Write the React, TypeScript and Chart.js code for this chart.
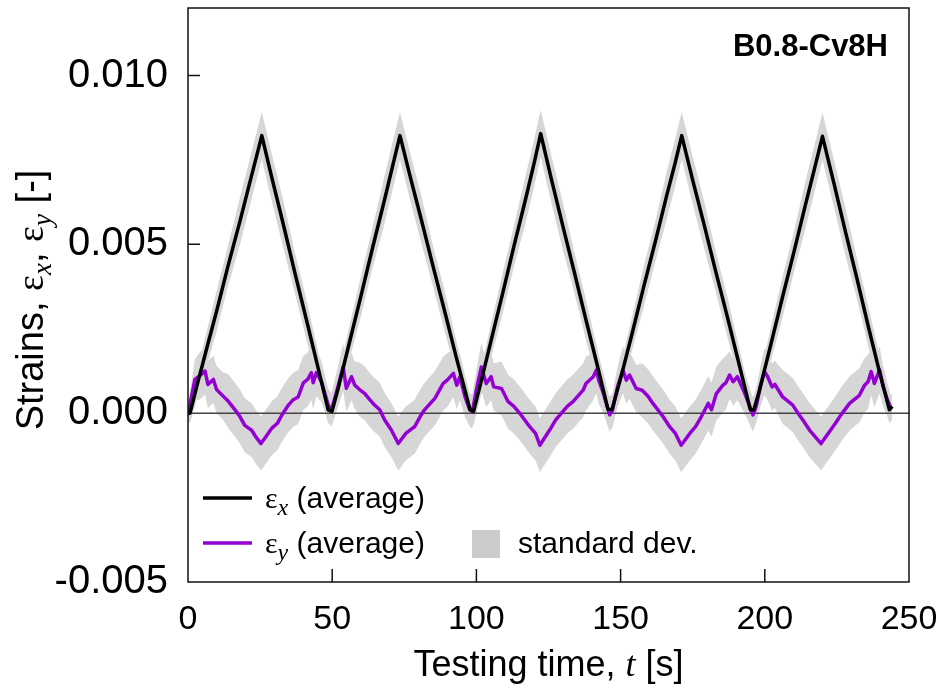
import React, { useEffect, useRef } from "react";
import { Chart, registerables } from "chart.js";

Chart.register(...registerables);

// ---------- data ----------
const xTickValues = [50, 100, 150, 200];
const yTickValues = [0.005, 0.01];

// average strain in x direction
const tX = [0, 0.7, 3, 6, 10, 14, 18, 22, 25.6, 29, 33, 37, 41, 45, 48.6, 49.9, 52, 56, 60, 64, 68, 71, 73.5, 77, 81, 85, 89, 93, 97.8, 99, 101, 105, 109, 113, 117, 120, 122.3, 126, 130, 134, 138, 142, 145.6, 147, 150, 154, 158, 162, 166, 169, 171.2, 175, 179, 183, 187, 191, 195, 196.2, 198, 202, 206, 210, 214, 217, 220, 224, 228, 232, 236, 240, 243.2, 244.2];
const epsX = [0, 0, 0.00078, 0.00176, 0.00305, 0.0044, 0.00568, 0.00702, 0.00822, 0.007, 0.00561, 0.00418, 0.00279, 0.00138, 0.0001, 0.00005, 0.00071, 0.0021, 0.00348, 0.0049, 0.00627, 0.00734, 0.00822, 0.00702, 0.0057, 0.00434, 0.00302, 0.00166, 0.0001, 0.00005, 0.00072, 0.00212, 0.00351, 0.00494, 0.00632, 0.0074, 0.00828, 0.00693, 0.00553, 0.00416, 0.00276, 0.00139, 0.00012, 0.0001, 0.00103, 0.00236, 0.00374, 0.00507, 0.00645, 0.00744, 0.00822, 0.0069, 0.00557, 0.00419, 0.00286, 0.00148, 0.0001, 0.0001, 0.00063, 0.002, 0.00339, 0.00474, 0.00614, 0.00716, 0.0082, 0.0068, 0.00536, 0.00397, 0.00253, 0.00114, 0.0001, 0.0002];
const sdX = [0.0002, 0.0003, 0.0004, 0.0005, 0.0006, 0.0006, 0.0007, 0.0007, 0.0007, 0.0007, 0.0007, 0.0006, 0.0006, 0.0005, 0.0004, 0.0004, 0.0004, 0.0005, 0.0006, 0.0006, 0.0007, 0.0007, 0.0007, 0.0007, 0.0007, 0.0006, 0.0006, 0.0005, 0.0004, 0.0004, 0.0004, 0.0005, 0.0006, 0.0006, 0.0007, 0.0007, 0.0007, 0.0007, 0.0007, 0.0006, 0.0006, 0.0005, 0.0004, 0.0004, 0.0004, 0.0005, 0.0006, 0.0006, 0.0007, 0.0007, 0.0007, 0.0007, 0.0007, 0.0006, 0.0006, 0.0005, 0.0004, 0.0004, 0.0004, 0.0005, 0.0006, 0.0006, 0.0007, 0.0007, 0.0007, 0.0007, 0.0007, 0.0006, 0.0006, 0.0005, 0.0004, 0.0004];

// average strain in y direction
const tY = [0, 1, 2.4, 4, 5.9, 6.9, 8.8, 9.9, 12, 14, 16.3, 18, 19.7, 22, 23.5, 25.3, 27, 29, 31, 32.5, 34.8, 36.5, 38.2, 40, 41.5, 42.8, 43.4, 44.5, 46.3, 48.6, 49.8, 52, 53.8, 54.9, 56.7, 57.8, 59.5, 61.3, 63, 64.7, 66.5, 68.2, 70.5, 72.9, 75.5, 78.6, 80.5, 82, 85.6, 88.5, 89.9, 92, 93.2, 94.3, 96, 97.7, 98.6, 100, 101.7, 103.4, 105.1, 106, 108.7, 111, 113, 115, 118.5, 120.5, 122, 125.4, 127.5, 129.5, 131.5, 133.5, 137, 138, 140.5, 141.6, 142.4, 144, 146.2, 147.2, 149, 150.8, 152, 153.1, 155.4, 157.5, 159.5, 161.2, 164.7, 167, 169, 171, 174, 176, 178, 180.4, 181.5, 183.2, 185.5, 186.5, 187.8, 189, 190.5, 193, 195.9, 197, 198.5, 199.9, 201, 202.5, 203.5, 206.2, 209.7, 211.5, 213.2, 215.5, 217.5, 219.5, 222.4, 224.5, 226.4, 229.4, 232.8, 234.6, 235.8, 236.9, 238, 239.8, 241, 242.5, 243.5];
const epsY = [0, 0.0004, 0.001, 0.0011, 0.00125, 0.00085, 0.001, 0.0007, 0.00052, 0.00035, 0.0001, -0.0001, -0.00036, -0.0005, -0.0007, -0.0009, -0.0007, -0.00045, -0.0003, -0.00006, 0.00024, 0.0004, 0.00048, 0.0009, 0.001, 0.0012, 0.0009, 0.0012, 0.00093, 0.00024, 0.0001, 0.00078, 0.00137, 0.00074, 0.00108, 0.00083, 0.0007, 0.00058, 0.0004, 0.00024, 0.0001, -0.0002, -0.0005, -0.0009, -0.0006, -0.0004, -0.0001, 0.0001, 0.00044, 0.00088, 0.00098, 0.00118, 0.00083, 0.00108, 0.0005, 0.0001, 0.00005, 0.0007, 0.00137, 0.00088, 0.00108, 0.00078, 0.00073, 0.00034, 0.0002, 0, -0.0004, -0.0006, -0.00095, -0.0005, -0.0002, 0, 0.0002, 0.00034, 0.00068, 0.00088, 0.00108, 0.00128, 0.00098, 0.0006, -0.00005, 0.0001, 0.0008, 0.00128, 0.00098, 0.00113, 0.00073, 0.00068, 0.0005, 0.00029, -0.0001, -0.0004, -0.0006, -0.00095, -0.0006, -0.0004, -0.0001, 0.00029, 0.0001, 0.00058, 0.00083, 0.0009, 0.00113, 0.00093, 0.00108, 0.0006, -0.00005, 0.0002, 0.0008, 0.00123, 0.00108, 0.00078, 0.00085, 0.00048, 0.00024, 0, -0.0002, -0.0005, -0.0007, -0.0009, -0.00055, -0.0003, -0.00005, 0.00029, 0.00053, 0.00083, 0.00093, 0.00123, 0.00088, 0.00128, 0.0008, 0.0004, 0.0002];
const sdY = [0.0002, 0.0004, 0.0006, 0.0007, 0.0007, 0.0007, 0.0007, 0.0007, 0.0007, 0.0008, 0.0008, 0.0008, 0.0008, 0.0008, 0.0008, 0.0008, 0.0008, 0.0008, 0.0008, 0.0008, 0.0008, 0.0008, 0.0008, 0.0008, 0.0008, 0.0008, 0.0008, 0.0007, 0.0006, 0.0005, 0.0005, 0.0006, 0.0007, 0.0007, 0.0007, 0.0007, 0.0008, 0.0008, 0.0008, 0.0008, 0.0008, 0.0008, 0.0008, 0.0008, 0.0008, 0.0008, 0.0008, 0.0008, 0.0008, 0.0008, 0.0008, 0.0007, 0.0007, 0.0007, 0.0006, 0.0005, 0.0005, 0.0006, 0.0007, 0.0007, 0.0007, 0.0007, 0.0008, 0.0008, 0.0008, 0.0008, 0.0008, 0.0008, 0.0008, 0.0008, 0.0008, 0.0008, 0.0008, 0.0008, 0.0008, 0.0008, 0.0007, 0.0007, 0.0007, 0.0006, 0.0005, 0.0005, 0.0006, 0.0007, 0.0007, 0.0007, 0.0007, 0.0008, 0.0008, 0.0008, 0.0008, 0.0008, 0.0008, 0.0008, 0.0008, 0.0008, 0.0008, 0.0008, 0.0008, 0.0008, 0.0008, 0.0008, 0.0007, 0.0007, 0.0007, 0.0006, 0.0005, 0.0005, 0.0006, 0.0007, 0.0007, 0.0007, 0.0007, 0.0008, 0.0008, 0.0008, 0.0008, 0.0008, 0.0008, 0.0008, 0.0008, 0.0008, 0.0008, 0.0008, 0.0008, 0.0008, 0.0008, 0.0007, 0.0007, 0.0007, 0.0006, 0.0005, 0.0004];

const BAND = "#d6d6d6";
const PURPLE = "#9400d3";
const SANS = "'Liberation Sans', Arial, sans-serif";
const SERIF = "'Liberation Serif', 'DejaVu Serif', serif";

type Run = { t: string; f: string; dy?: number };

function runsWidth(ctx: CanvasRenderingContext2D, runs: Run[]) {
  let w = 0;
  for (const r of runs) {
    ctx.font = r.f;
    w += ctx.measureText(r.t).width;
  }
  return w;
}

function drawRuns(ctx: CanvasRenderingContext2D, runs: Run[], x: number, y: number) {
  ctx.textBaseline = "alphabetic";
  ctx.textAlign = "left";
  let cx = x;
  for (const r of runs) {
    ctx.font = r.f;
    ctx.fillText(r.t, cx, y + (r.dy || 0));
    cx += ctx.measureText(r.t).width;
  }
}

const decor = {
  id: "decor",
  beforeDatasetDraw(chart: any, args: any) {
    if (args.index !== 1) return;
    const { ctx, chartArea } = chart;
    const y0 = chart.scales.y.getPixelForValue(0);
    ctx.save();
    ctx.strokeStyle = "#444";
    ctx.lineWidth = 1.5;
    ctx.beginPath();
    ctx.moveTo(chartArea.left, y0);
    ctx.lineTo(chartArea.right, y0);
    ctx.stroke();
    ctx.restore();
  },
  afterDraw(chart: any) {
    const { ctx, chartArea } = chart;
    const { left, right, top, bottom } = chartArea;
    const xs = chart.scales.x;
    const ys = chart.scales.y;
    ctx.save();
    // frame
    ctx.strokeStyle = "#111";
    ctx.lineWidth = 1.5;
    ctx.strokeRect(left, top, right - left, bottom - top);
    // inside ticks
    ctx.beginPath();
    for (const v of yTickValues) {
      const py = ys.getPixelForValue(v);
      ctx.moveTo(left, py);
      ctx.lineTo(left + 12, py);
    }
    for (const v of xTickValues) {
      const px = xs.getPixelForValue(v);
      ctx.moveTo(px, bottom);
      ctx.lineTo(px, bottom - 13);
    }
    ctx.stroke();

    ctx.fillStyle = "#000";
    // specimen label
    ctx.font = `bold 31px ${SANS}`;
    ctx.textAlign = "right";
    ctx.textBaseline = "alphabetic";
    ctx.fillText("B0.8-Cv8H", right - 21, 56);

    // y axis title
    const yf = 38;
    const yRuns: Run[] = [
      { t: "Strains, ", f: `${yf}px ${SANS}` },
      { t: "ε", f: `${yf}px ${SERIF}` },
      { t: "x", f: `italic ${Math.round(yf * 0.72)}px ${SERIF}`, dy: 8 },
      { t: ", ", f: `${yf}px ${SANS}` },
      { t: "ε", f: `${yf}px ${SERIF}` },
      { t: "y", f: `italic ${Math.round(yf * 0.72)}px ${SERIF}`, dy: 8 },
      { t: " [-]", f: `${yf}px ${SANS}` },
    ];
    ctx.save();
    ctx.translate(30, 300);
    ctx.rotate(-Math.PI / 2);
    const yw = runsWidth(ctx, yRuns);
    drawRuns(ctx, yRuns, -yw / 2, 13);
    ctx.restore();

    // x axis title
    const xf = 36;
    const xRuns: Run[] = [
      { t: "Testing time, ", f: `${xf}px ${SANS}` },
      { t: "t", f: `italic ${xf}px ${SERIF}` },
      { t: " [s]", f: `${xf}px ${SANS}` },
    ];
    const xw = runsWidth(ctx, xRuns);
    drawRuns(ctx, xRuns, (left + right) / 2 - xw / 2, 676);

    // legend
    const lf = 30;
    ctx.lineWidth = 3.5;
    ctx.strokeStyle = "#000";
    ctx.beginPath();
    ctx.moveTo(203, 498);
    ctx.lineTo(252, 498);
    ctx.stroke();
    ctx.strokeStyle = PURPLE;
    ctx.beginPath();
    ctx.moveTo(203, 543);
    ctx.lineTo(252, 543);
    ctx.stroke();
    drawRuns(ctx, [
      { t: "ε", f: `${lf}px ${SERIF}` },
      { t: "x", f: `italic 24px ${SERIF}`, dy: 7 },
      { t: " (average)", f: `${lf}px ${SANS}` },
    ], 265, 508);
    drawRuns(ctx, [
      { t: "ε", f: `${lf}px ${SERIF}` },
      { t: "y", f: `italic 24px ${SERIF}`, dy: 7 },
      { t: " (average)", f: `${lf}px ${SANS}` },
    ], 265, 553);
    ctx.fillStyle = "#cccccc";
    ctx.fillRect(472, 530, 28, 28);
    ctx.fillStyle = "#000";
    drawRuns(ctx, [{ t: "standard dev.", f: `${lf}px ${SANS}` }], 518, 553);
    ctx.restore();
  },
};

function pts(xs: number[], ys: number[]) {
  return xs.map((x, i) => ({ x, y: ys[i] }));
}

export default function App() {
  const ref = useRef<HTMLCanvasElement>(null);
  useEffect(() => {
    document.body.style.margin = "0";
    const canvas = ref.current!;
    const chart = new Chart(canvas, {
      type: "line",
      data: {
        datasets: [
          { label: "εx (average)", data: pts(tX, epsX), borderColor: "#000", borderWidth: 3.5, pointRadius: 0, order: 0, fill: false, borderJoinStyle: "round" },
          { label: "εy (average)", data: pts(tY, epsY), borderColor: PURPLE, borderWidth: 3.5, pointRadius: 0, order: 1, fill: false, borderJoinStyle: "round" },
          { label: "x upper", data: pts(tX, epsX.map((v, i) => v + sdX[i])), borderWidth: 0, borderColor: "rgba(0,0,0,0)", pointRadius: 0, order: 2, fill: false },
          { label: "x lower", data: pts(tX, epsX.map((v, i) => v - sdX[i])), borderWidth: 0, borderColor: "rgba(0,0,0,0)", pointRadius: 0, order: 2, fill: "-1", backgroundColor: BAND },
          { label: "y upper", data: pts(tY, epsY.map((v, i) => v + sdY[i])), borderWidth: 0, borderColor: "rgba(0,0,0,0)", pointRadius: 0, order: 2, fill: false },
          { label: "y lower", data: pts(tY, epsY.map((v, i) => v - sdY[i])), borderWidth: 0, borderColor: "rgba(0,0,0,0)", pointRadius: 0, order: 2, fill: "-1", backgroundColor: BAND },
        ] as any,
      },
      options: {
        responsive: false,
        animation: false,
        devicePixelRatio: 1,
        layout: { padding: { top: 8, right: 30, left: 0, bottom: 0 } },
        plugins: { legend: { display: false }, tooltip: { enabled: false } },
        elements: { line: { tension: 0 } },
        scales: {
          x: {
            type: "linear",
            min: 0,
            max: 250,
            ticks: {
              stepSize: 50,
              font: { family: "'Liberation Sans', Arial", size: 34 },
              color: "#000",
              padding: 17,
              maxRotation: 0,
              autoSkip: false,
            },
            grid: { display: false, drawTicks: false },
            border: { display: false },
            afterFit: (s: any) => {
              s.height = 107;
              s.paddingLeft = 0;
              s.paddingRight = 0;
            },
          },
          y: {
            type: "linear",
            min: -0.005,
            max: 0.012,
            ticks: {
              stepSize: 0.005,
              includeBounds: false,
              font: { family: "'Liberation Sans', Arial", size: 40 },
              color: "#000",
              padding: 20,
              callback: (v: any) => {
                const n = Number(v);
                return (Math.abs(n) < 1e-9 ? 0 : n).toFixed(3);
              },
            },
            grid: { display: false, drawTicks: false },
            border: { display: false },
            afterFit: (s: any) => {
              s.width = 188;
              s.paddingTop = 0;
              s.paddingBottom = 0;
            },
          },
        },
      } as any,
      plugins: [decor],
    });
    return () => chart.destroy();
  }, []);
  return (
    <div style={{ width: 939, height: 689 }}>
      <canvas ref={ref} width={939} height={689} style={{ display: "block" }} />
    </div>
  );
}
